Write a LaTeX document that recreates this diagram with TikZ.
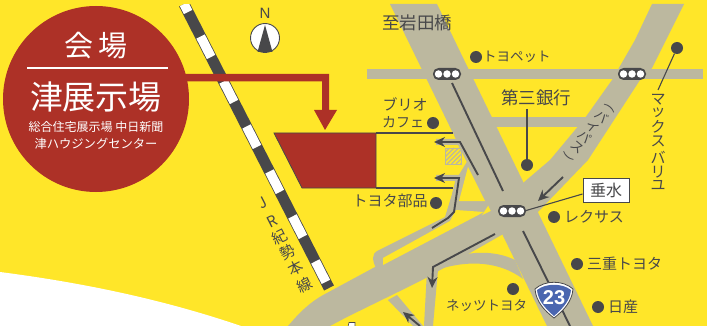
\documentclass[tikz,border=0pt]{standalone}
\usepackage{fontspec}
\setmainfont{Noto Sans CJK JP}
\newfontfamily\latinsans{Liberation Sans}
\usetikzlibrary{arrows.meta}
\definecolor{bgyellow}{HTML}{FFE629}
\definecolor{roadgray}{HTML}{BCB89F}
\definecolor{inkgray}{HTML}{48484A}
\definecolor{brick}{HTML}{AD3127}
\definecolor{shieldblue}{HTML}{4A66B0}
\newcommand{\fs}[1]{\fontsize{#1}{#1}\selectfont}
\tikzset{
  x=1pt,y=-1pt,
  road/.style={fill=roadgray,draw=none},
  gap/.style={fill=bgyellow,draw=none},
  label/.style={inner sep=0pt,text=inkgray,font=\fs{15}},
  poi/.style={circle,fill=inkgray,inner sep=0pt,minimum size=12pt},
  leader/.style={draw=inkgray,line width=1.1pt},
  routeline/.style={draw=inkgray,line width=1.9pt},
  halo/.style={draw=roadgray,line width=6pt},
  routearrow/.style={draw=inkgray,line width=1.9pt,-{Stealth[length=11pt,width=10pt]}},
  signalbox/.style={rounded corners=5.5pt,fill=inkgray,draw=none},
  lamp/.style={circle,fill=white,inner sep=0pt,minimum size=7.5pt},
  whitelabel/.style={inner sep=0pt,text=white},
}
\newcommand{\signal}[3]{%
  \fill[signalbox] (#2-14,#3-6) rectangle (#2+14,#3+6);
  \node[lamp] (#1a) at (#2-8.5,#3) {};
  \node[lamp] (#1b) at (#2,#3) {};
  \node[lamp] (#1c) at (#2+8.5,#3) {};
}
\begin{document}
\begin{tikzpicture}
\useasboundingbox (0,0) rectangle (707,326);
\fill[bgyellow] (0,0) rectangle (707,326);
\fill[white] (0,272) .. controls (85,283) and (165,300) .. (241,326) -- (0,326) -- cycle;
% roads
\fill[road] (367,69) rectangle (703,79);
\fill[road] (492,117) rectangle (587,127);
\fill[road] (390,4) -- (437,4) -- (593,326) -- (547,326) -- cycle;
\fill[road] (652,4) -- (684,4) -- (652,68) -- (640,80) -- (588,160) -- (538,212) -- (515,200) -- (523,183) -- (550,160) -- (585,118) -- (612,80) -- (635,40) -- cycle;
% frontage road
\fill[road] (468,160) -- (457,178) -- (445,217) -- (377,251) .. controls (372,254) and (372,260) .. (376,268) -- (480,218) -- (495,195) -- cycle;
% main diagonal
\fill[road] (288,326) .. controls (300,312) and (310,302) .. (325,294) -- (375,267) -- (493,210) -- (515,205) -- (505,233) -- (428,277) -- (398,292) -- (347,317) -- (330,326) -- cycle;
% lower branches
\fill[road] (427,270) -- (438,270) -- (433,326) -- (424,326) -- cycle;
\fill[road] (437,270) .. controls (460,262) and (495,258) .. (523,279) -- (515,260) .. controls (495,250) and (465,250) .. (445,262) -- cycle;
\fill[road] (388,300) -- (397,295) -- (423,326) -- (413,326) -- cycle;
% yellow gaps over the roads
\fill[gap] (456,210) -- (484,212) -- (383,265) -- (383,258) -- (450,221) -- cycle;
% rail
\draw[inkgray,line width=11pt] (184,4) -- (329,288);
\draw[white,line width=9.4pt,dash pattern=on 23pt off 27.5pt,dash phase=14pt] (184,4) -- (329,288);
\fill[bgyellow] (170,0) rectangle (200,4);
% site
\fill[brick,draw=inkgray,line width=.8pt] (274,133) -- (376,133) -- (376,188) -- (302,188) -- cycle;
\fill[bgyellow] (376.5,133.7) rectangle (454,187.3);
\draw[halo] (436,142) -- (460,142) -- (472,165);
\draw[halo] (436,178) -- (459,178) -- (455,195);
\fill[gap] (468,167) -- (485,201) -- (459,201) -- cycle;
\begin{scope}
\clip (445,148) rectangle (461,164);
\fill[bgyellow] (445,148) rectangle (461,164);
\foreach \d in {-16,-11.5,...,20}{\draw[roadgray,line width=1.4pt] (445+\d,164) -- (461+\d,148);}
\end{scope}
\draw[roadgray,line width=.7pt] (445,148) rectangle (461,164);
\draw[inkgray,line width=1.3pt] (376,133) -- (453,133);
\draw[inkgray,line width=1.3pt] (376,188) -- (453,188);
\fill[white,draw=inkgray,line width=.6pt] (348,326.5) -- (349,322.5) -- (355,322.5) -- (355,326.5) -- cycle;
% route lines
\draw[routeline] (452,83) -- (503,191);
\draw[routeline] (523,231) -- (570,326);
\draw[routearrow] (478,175) -- (460,142) -- (434,142);
\draw[routearrow] (432,228) -- (448,218) -- (454,212) -- (459,178) -- (434,178);
\draw[routearrow] (495,234) -- (433,267) -- (432,288);
\draw[routearrow] (563,177) -- (538,201);
\draw[routearrow] (420,326) -- (403,312);
% signals
\signal{sa}{447}{74}
\signal{sb}{632}{74}
\signal{sc}{512}{211}
% compass
\node[circle,draw=inkgray,fill=white,line width=.9pt,inner sep=0pt,minimum size=29pt] (compass) at (265,38) {};
\fill[inkgray] (265,25) -- (272.5,52) -- (257.5,52) -- cycle;
\node[inner sep=0pt,text=inkgray,font=\latinsans\fs{15}] (north) at (265,13) {N};
% circle sign
\node[circle,fill=brick,inner sep=0pt,minimum size=186pt] (sign) at (96,99) {};
\fill[brick] (185,74) -- (329,74) -- (329,110) -- (337,110) -- (325,130) -- (314,110) -- (322,110) -- (322,81.5) -- (185,81.5) -- cycle;
\draw[white,line width=1.6pt] (27,68) -- (168,68);
\node[whitelabel,font=\fs{29}] (t1) at (96,46) {会\hspace{5pt}場};
\node[whitelabel,font=\fs{33}] (t2) at (96,97) {津展示場};
\node[whitelabel,font=\fs{12}] (t3) at (96,127) {総合住宅展示場 中日新聞};
\node[whitelabel,font=\fs{12.3}] (t4) at (96,143.5) {津ハウジングセンター};
% rail label
\node[label,rotate=27] (r1) at (263,203) {J};
\node[label,rotate=27] (r2) at (272,221) {R};
\node[label,rotate=27] (r3) at (280,237) {紀};
\node[label,rotate=27] (r4) at (288,252) {勢};
\node[label,rotate=27] (r5) at (296,268) {本};
\node[label,rotate=27] (r6) at (305,285) {線};
% places
\node[label,font=\fs{17.5}] (iwata) at (417,23) {至岩田橋};
\node[poi] (dpet) at (476,57) {};
\node[label,anchor=west,font=\fs{13.5}] (tpet) at (483,57) {トヨペット};
\node[label,font=\fs{17.5}] (bank) at (536,98) {第三銀行};
\node[poi] (dbank) at (527,165) {};
\draw[leader] (527,109) -- (dbank);
\node[label] (br1) at (405,104) {ブリオ};
\node[label,font=\fs{14}] (br2) at (403,122) {カフェ};
\node[poi] (dcafe) at (433,123) {};
\node[poi] (dmax) at (677,48) {};
\coordinate (maxend) at (658,90);
\draw[leader] (dmax) -- (maxend);
\foreach \c/\y in {マ/100,ッ/113,ク/127,ス/141,バ/157,リ/172,ユ/185}{\node[label] at (658,\y) {\c};}
\foreach \c/\x/\y in {バ/602/117,イ/593/127,パ/585/137,ス/577/147}{\node[label,rotate=-40,font=\fs{13}] at (\x,\y) {\c};}
\node[label,rotate=-130,font=\fs{13}] at (610,108) {(};
\node[label,rotate=-130,font=\fs{13}] at (568,157) {)};
\node[label] (parts) at (390,201) {トヨタ部品};
\node[poi] (dparts) at (436,203) {};
\node[poi] (dlex) at (554,217) {};
\node[label,anchor=west] (lex) at (564,217) {レクサス};
\node[poi] (dmie) at (577,264) {};
\node[label,anchor=west] (mie) at (587,264) {三重トヨタ};
\node[poi] (dnis) at (598,307) {};
\node[label,anchor=west] (nis) at (608,307) {日産};
\node[poi] (dnet) at (513,289) {};
\node[label,anchor=west,font=\fs{13.5}] (net) at (446,306) {ネッツトヨタ};
% place name box
\node[draw=inkgray,fill=white,line width=.9pt,text=inkgray,inner sep=0pt,minimum width=46pt,minimum height=24pt,font=\fs{16}] (tarumi) at (606,190) {垂水};
\draw[leader] (tarumi.west |- 0,194) -- (scc.east);
% route shield
\fill[white,draw=inkgray,line width=.8pt] (535,289) .. controls (545,280) and (563,280) .. (573,289) .. controls (572,302) and (563,311) .. (554,318) .. controls (545,311) and (536,302) .. (535,289) -- cycle;
\fill[shieldblue] (537,290) .. controls (546,283) and (562,283) .. (571,290) .. controls (570,301) and (562,309) .. (554,316) .. controls (546,309) and (538,301) .. (537,290) -- cycle;
\node[whitelabel,font=\latinsans\bfseries\fs{20}] (route) at (554,298) {23};
\end{tikzpicture}
\end{document}
